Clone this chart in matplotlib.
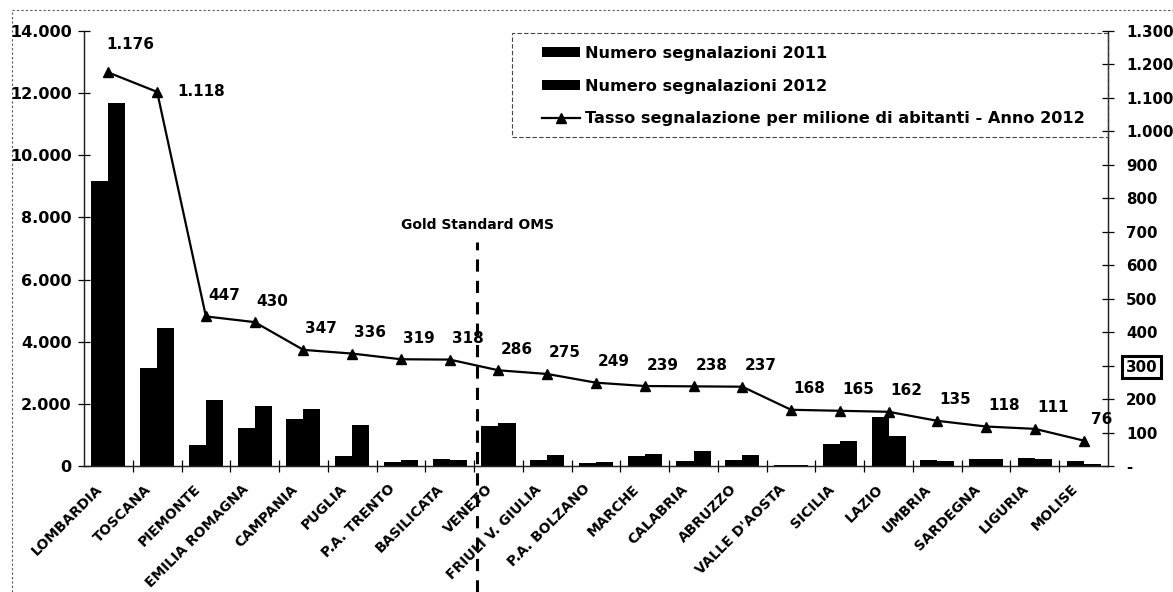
import matplotlib
matplotlib.use('Agg')
import matplotlib.pyplot as plt
import numpy as np
from matplotlib.patches import Rectangle
from matplotlib.lines import Line2D
from matplotlib.ticker import FixedLocator, FuncFormatter
from matplotlib.transforms import ScaledTranslation

# ---------------- data ----------------
regions = ["LOMBARDIA", "TOSCANA", "PIEMONTE", "EMILIA ROMAGNA", "CAMPANIA",
           "PUGLIA", "P.A. TRENTO", "BASILICATA", "VENETO", "FRIULI V. GIULIA",
           "P.A. BOLZANO", "MARCHE", "CALABRIA", "ABRUZZO", "VALLE D'AOSTA",
           "SICILIA", "LAZIO", "UMBRIA", "SARDEGNA", "LIGURIA", "MOLISE"]
segnalazioni_2011 = [9170, 3160, 690, 1220, 1510, 320, 140, 230, 1280, 190,
                     85, 320, 160, 180, 30, 715, 1570, 180, 235, 265, 150]
segnalazioni_2012 = [11680, 4450, 2110, 1940, 1830, 1330, 180, 190, 1400, 340,
                     130, 385, 470, 340, 20, 810, 960, 160, 235, 235, 60]
tasso_2012 = [1176, 1118, 447, 430, 347, 336, 319, 318, 286, 275, 249, 239,
              238, 237, 168, 165, 162, 135, 118, 111, 76]
left_ticks = [0, 2000, 4000, 6000, 8000, 10000, 12000, 14000]
right_ticks = [0, 100, 200, 300, 400, 500, 600, 700, 800, 900, 1000, 1100, 1200, 1300]
legend_labels = ["Numero segnalazioni 2011", "Numero segnalazioni 2012",
                 "Tasso segnalazione per milione di abitanti - Anno 2012"]
gold_label = "Gold Standard OMS"

# ---------------- figure ----------------
plt.rcParams['font.family'] = ['DejaVu Sans']
plt.rcParams['font.weight'] = 'bold'

W, H = 1173, 592
fig = plt.figure(figsize=(W / 100, H / 100), dpi=100)
fig.patch.set_facecolor('white')

ax_l, ax_r, ax_t, ax_b = 84, 1108, 31, 466
ax = fig.add_axes([ax_l / W, 1 - ax_b / H, (ax_r - ax_l) / W, (ax_b - ax_t) / H])

x = np.arange(len(regions))
w = 0.35
b1 = ax.bar(x - w / 2, segnalazioni_2011, w, color='black', label=legend_labels[0], zorder=2)
b2 = ax.bar(x + w / 2, segnalazioni_2012, w, color='black', label=legend_labels[1], zorder=2)
ax.set_xlim(-0.5, len(regions) - 0.5)
ax.set_ylim(0, 14000)
ax.yaxis.set_major_locator(FixedLocator(left_ticks))
ax.yaxis.set_major_formatter(FuncFormatter(lambda v, p: f"{v:,.0f}".replace(',', '.')))

ax2 = ax.twinx()
ln, = ax2.plot(x, tasso_2012, color='black', lw=1.6, marker='^', ms=7,
               label=legend_labels[2], zorder=3)
ax2.set_ylim(0, 1300)
ax2.yaxis.set_major_locator(FixedLocator(right_ticks))
ax2.yaxis.set_major_formatter(FuncFormatter(
    lambda v, p: '-' if v == 0 else f"{v:,.0f}".replace(',', '.')))

# spines
for a in (ax, ax2):
    a.spines['top'].set_visible(False)
    for s in ('left', 'right', 'bottom'):
        a.spines[s].set_linewidth(0.9)
        a.spines[s].set_color('#222222')

# ticks
ax.tick_params(axis='y', direction='inout', length=8, width=0.9, labelsize=11.5, pad=5)
ax2.tick_params(axis='y', direction='inout', length=8, width=0.9, labelsize=10.8, pad=9)
ax.set_xticks(x)
ax.set_xticklabels(regions, rotation=45, ha='right', rotation_mode='anchor', va='center',
                   fontsize=10, fontweight='bold')
ax.tick_params(axis='x', which='major', length=0, pad=15)
shift = ScaledTranslation(-8 / 100, 0, fig.dpi_scale_trans)
for lab in ax.get_xticklabels():
    lab.set_transform(lab.get_transform() + shift)
ax.set_xticks(np.arange(0.5, len(regions) - 0.5, 1), minor=True)
ax.tick_params(axis='x', which='minor', direction='inout', length=8, width=0.9)

# box around the "300" label
for lab, val in zip(ax2.get_yticklabels(), right_ticks):
    if val == 300:
        lab.set_bbox(dict(boxstyle='square,pad=0.25', facecolor='none',
                          edgecolor='black', linewidth=2.2))

# data labels on the line
for name, xi, v in zip(regions, x, tasso_2012):
    dx, dy, ha = (18, 21, 'center')
    if name == "LOMBARDIA":
        dx, dy, ha = (22, 28, 'center')
    elif name == "TOSCANA":
        dx, dy, ha = (20, 0, 'left')
    ax2.annotate(f"{v:,.0f}".replace(',', '.'), (xi, v), xytext=(dx, dy),
                 textcoords='offset pixels', ha=ha, va='center',
                 fontsize=11, fontweight='bold', zorder=4)

# Gold Standard OMS dashed line (between Basilicata and Veneto)
gx = 7.56
trans = ax.get_xaxis_transform()
y_top = 1 - (242 - ax_t) / (ax_b - ax_t)
y_bot = -(592 - ax_b) / (ax_b - ax_t)
ax.add_line(Line2D([gx, gx], [y_bot, y_top], transform=trans, color='black',
                   lw=2.2, dashes=(4, 3), clip_on=False, zorder=5))
ax.text(gx, 1 - (225 - ax_t) / (ax_b - ax_t), gold_label, transform=trans,
        ha='center', va='center', fontsize=10, fontweight='bold')

# legend (frameless) + dashed box
handles = [b1, b2, ln]
leg = fig.legend(handles, legend_labels, loc='upper left',
                 bbox_to_anchor=(529 / W, 1 - 33 / H), frameon=False,
                 fontsize=11.6, handlelength=2.35, handleheight=0.55,
                 handletextpad=0.35, labelspacing=1.1, borderpad=0.3)
for t in leg.get_texts():
    t.set_fontweight('bold')
fig.add_artist(Rectangle((512 / W, 1 - 137 / H), (1108 - 512) / W, (137 - 33) / H,
                         transform=fig.transFigure, fill=False, edgecolor='#444444',
                         lw=0.8, linestyle=(0, (4, 2))))

# scanned chart-area border (top and left)
fig.add_artist(Line2D([12 / W, 1], [1 - 10 / H, 1 - 10 / H], transform=fig.transFigure,
                      color='#555555', lw=0.8, linestyle=(0, (2, 2))))
fig.add_artist(Line2D([12 / W, 12 / W], [0, 1 - 10 / H], transform=fig.transFigure,
                      color='#555555', lw=0.8, linestyle=(0, (2, 2))))

fig.savefig('out.png', dpi=100, facecolor='white')
